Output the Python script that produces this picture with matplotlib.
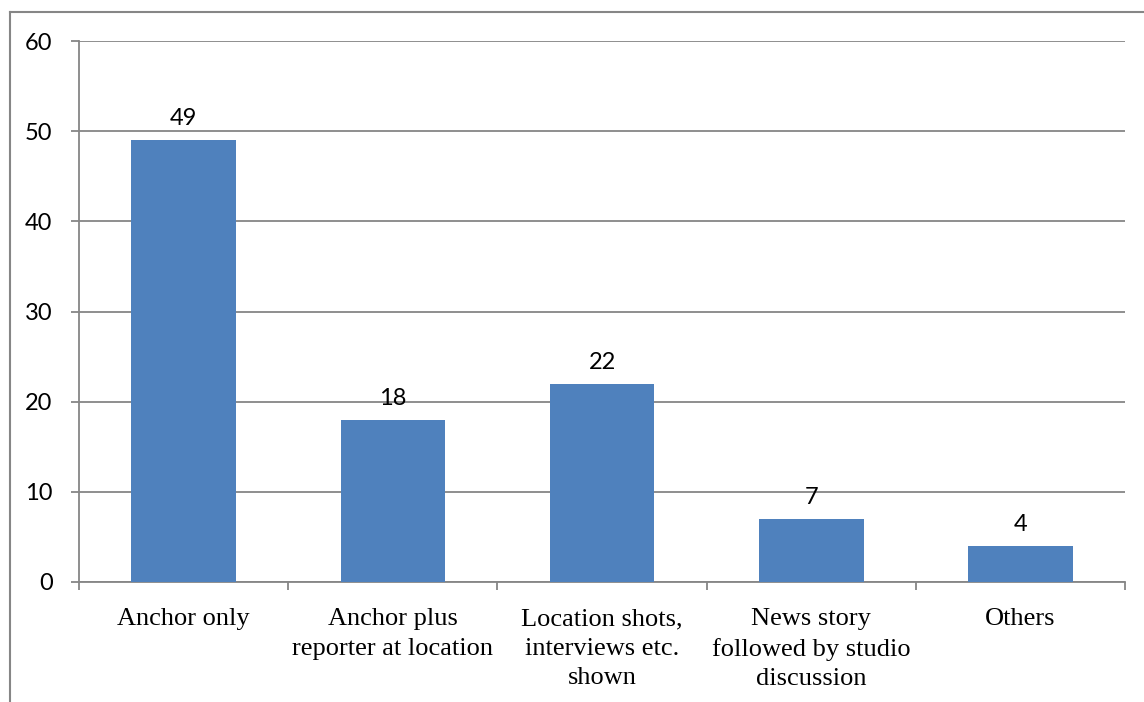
import matplotlib.pyplot as plt
from matplotlib.lines import Line2D

# presentation formats
categories = [
    "Anchor only",
    "Anchor plus\nreporter at location",
    "Location shots,\ninterviews etc.\nshown",
    "News story\nfollowed by studio\ndiscussion",
    "Others",
]
counts = [49, 18, 22, 7, 4]
y_ticks = [0, 10, 20, 30, 40, 50, 60]

BAR_COLOR = "#4F81BD"
LINE_COLOR = "#868686"
NUM_FONT = "Lato"
TEXT_FONT = "Liberation Serif"

fig = plt.figure(figsize=(11.44, 7.02), dpi=100)
ax = fig.add_axes([79 / 1144, 1 - 582 / 702, (1125 - 79) / 1144, (582 - 41) / 702])

positions = list(range(len(categories)))
bars = ax.bar(positions, counts, width=0.5, color=BAR_COLOR, zorder=3)
ax.bar_label(bars, labels=[str(c) for c in counts], padding=8,
             fontsize=17, family=NUM_FONT, color="black")

ax.set_xlim(-0.5, len(categories) - 0.5)
ax.set_ylim(0, 60)
ax.set_yticks(y_ticks)
ax.set_yticklabels([str(t) for t in y_ticks], fontsize=17, family=NUM_FONT)
ax.yaxis.grid(True, color=LINE_COLOR, linewidth=1.3, zorder=0)
ax.set_axisbelow(True)

# category labels sit at major ticks, tick marks at the boundaries
ax.set_xticks(positions)
ax.set_xticklabels(categories, fontsize=19, family=TEXT_FONT, linespacing=1.42)
ax.set_xticks([p - 0.5 for p in positions] + [len(categories) - 0.5], minor=True)
ax.tick_params(axis="x", which="major", length=0, pad=19)
ax.tick_params(axis="x", which="minor", length=6, width=1.3, color=LINE_COLOR, direction="out")
ax.tick_params(axis="y", length=6, width=1.3, color=LINE_COLOR, direction="out", pad=13)

for side in ["top", "right"]:
    ax.spines[side].set_visible(False)
for side in ["left", "bottom"]:
    ax.spines[side].set_color(LINE_COLOR)
    ax.spines[side].set_linewidth(1.3)

# chart frame, running off the right and bottom edges
fig.add_artist(Line2D([10 / 1144, 10 / 1144], [1 - 12 / 702, 0], transform=fig.transFigure,
                      color=LINE_COLOR, linewidth=1.5))
fig.add_artist(Line2D([10 / 1144, 1], [1 - 12 / 702, 1 - 12 / 702], transform=fig.transFigure,
                      color=LINE_COLOR, linewidth=1.5))

fig.savefig("out.png", dpi=100)
